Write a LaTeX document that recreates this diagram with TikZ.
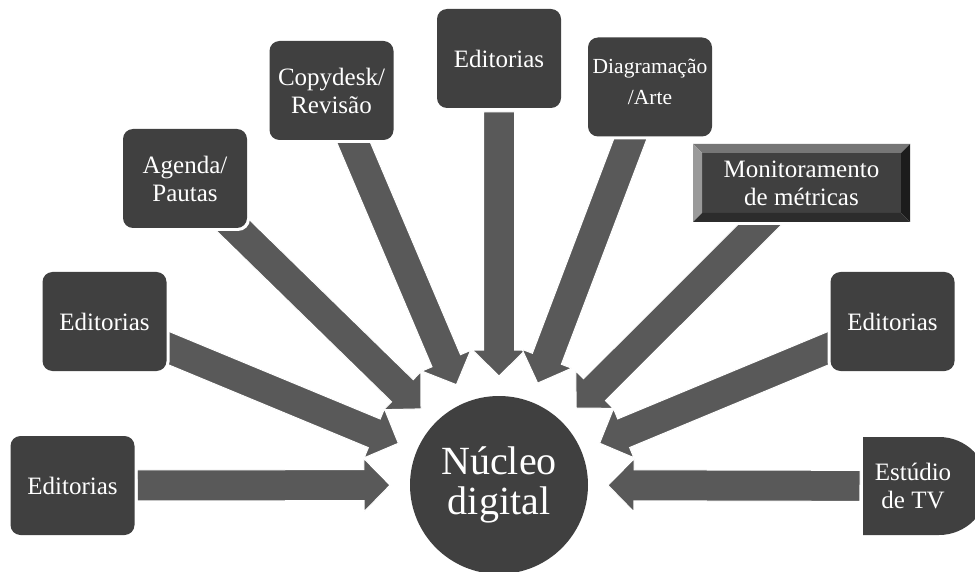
\documentclass[tikz,border=0pt]{standalone}
\usepackage{fontspec}
\setmainfont{Liberation Serif}
\usetikzlibrary{calc,backgrounds}
\definecolor{boxgray}{HTML}{404040}
\definecolor{arrowgray}{HTML}{595959}
\definecolor{bevtop}{HTML}{767676}
\definecolor{bevleft}{HTML}{9A9A9A}
\definecolor{bevright}{HTML}{1C1C1C}
\definecolor{bevbottom}{HTML}{2C2C2C}
\begin{document}
\begin{tikzpicture}[x=1pt,y=-1pt,
  box/.style={rectangle, rounded corners=10pt, fill=boxgray, text=white,
    font=\fontsize{25}{28}\selectfont, align=center,
    minimum width=124pt, minimum height=99pt, inner sep=0pt, outer sep=0pt},
  lbl/.style={text=white, font=\fontsize{25}{28}\selectfont, align=center, inner sep=0pt, outer sep=0pt},
  blockarrow/.style={fill=arrowgray, draw=white, line width=1pt, line join=miter},
  halo/.style={fill=white, rounded corners=12pt}]
\useasboundingbox (0,0) rectangle (975,572);

% central circle
\node[circle, fill=boxgray, minimum size=178pt, inner sep=0pt, outer sep=0pt,
  text=white, font=\fontsize{40}{40}\selectfont, align=center] (nuc) at (499,485) {Núcleo\\digital};

% boxes
\node[box] (b1) at (72.5,485.5) {Editorias};
\node[box] (b2) at (104.5,321.5) {Editorias};
\node[box] (b3) at (185,178.5) {Agenda/\\Pautas};
\node[box] (b4) at (331.5,90.5) {Copydesk/\\Revisão};
\node[box] (b5) at (499,58.5) {Editorias};
\node[box] (b6) at (650,87) {};
\node[lbl, font=\fontsize{21.5}{31}\selectfont] at (650,82) {Diagramação\\/Arte};
\node[box] (b8) at (892.5,321.5) {Editorias};

% bevel box
\fill[boxgray] (702,153) rectangle (901,213);
\fill[bevtop] (693,144) -- (910,144) -- (901,153) -- (702,153) -- cycle;
\fill[bevleft] (693,144) -- (702,153) -- (702,213) -- (693,222) -- cycle;
\fill[bevright] (910,144) -- (910,222) -- (901,213) -- (901,153) -- cycle;
\fill[bevbottom] (693,222) -- (910,222) -- (901,213) -- (702,213) -- cycle;
\node[lbl, minimum width=217pt, minimum height=78pt] (b7) at (801.5,183) {Monitoramento\\de métricas};

% D shape
\fill[boxgray] (863,437) -- (939,437) arc[start angle=-90, end angle=90, radius=49] -- (863,535) -- cycle;
\node[lbl] (b9) at (913,486) {Estúdio\\de TV};

\begin{pgfonlayer}{background}
\foreach \b/\s in {b1/362,b2/380,b3/385,b4/390,b5/373,b6/395,b7/395,b8/380,b9/361}{
  \coordinate (s) at ($(nuc.center)!\s pt!(\b.center)$);
  \coordinate (h) at ($(nuc.center)!135pt!(\b.center)$);
  \coordinate (tp) at ($(nuc.center)!109pt!(\b.center)$);
  \filldraw[blockarrow] ($(s)!15.5pt!90:(nuc.center)$) -- ($(h)!15.5pt!90:(nuc.center)$)
    -- ($(h)!26.5pt!90:(nuc.center)$) -- (tp) -- ($(h)!26.5pt!-90:(nuc.center)$)
    -- ($(h)!15.5pt!-90:(nuc.center)$) -- ($(s)!15.5pt!-90:(nuc.center)$) -- cycle;
}
\foreach \b in {b1,b2,b3,b4,b5,b6,b8}{
  \fill[halo] ([shift={(-3,-3)}]\b.north west) rectangle ([shift={(3,3)}]\b.south east);
}
\fill[white] (690,141) rectangle (913,225);
\end{pgfonlayer}
\end{tikzpicture}
\end{document}
